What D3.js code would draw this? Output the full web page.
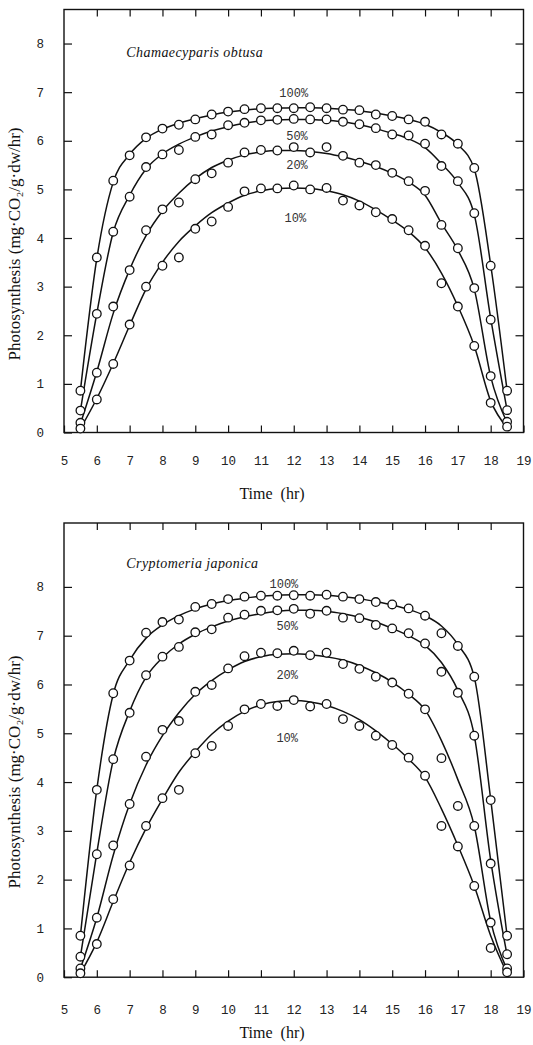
<!DOCTYPE html>
<html>
<head>
<meta charset="utf-8">
<script src="https://cdn.jsdelivr.net/npm/d3@7"></script>
<style>
body { margin: 0; background: #fff; }
</style>
</head>
<body>
<svg width="533" height="1045"></svg>
<script>
// half-hourly measurements, 5.5 h .. 18.5 h
var hours = [5.5, 6, 6.5, 7, 7.5, 8, 8.5, 9, 9.5, 10, 10.5, 11, 11.5, 12, 12.5,
             13, 13.5, 14, 14.5, 15, 15.5, 16, 16.5, 17, 17.5, 18, 18.5];
var xTickLabels = [5, 6, 7, 8, 9, 10, 11, 12, 13, 14, 15, 16, 17, 18, 19];
var yTickLabels = [0, 1, 2, 3, 4, 5, 6, 7, 8];
var lightLevels = ["100%", "50%", "20%", "10%"];

// Chamaecyparis obtusa - measured points
var obtusa100 = [0.86, 3.60, 5.18, 5.70, 6.07, 6.25, 6.33, 6.44, 6.54, 6.60, 6.65, 6.67, 6.67, 6.67,
                 6.69, 6.67, 6.64, 6.63, 6.54, 6.51, 6.44, 6.39, 6.13, 5.94, 5.44, 3.43, 0.86];
var obtusa50  = [0.45, 2.44, 4.13, 4.85, 5.46, 5.72, 5.81, 6.08, 6.13, 6.32, 6.37, 6.42, 6.43, 6.45,
                 6.44, 6.44, 6.39, 6.34, 6.26, 6.13, 6.11, 5.94, 5.48, 5.17, 4.51, 2.32, 0.46];
var obtusa20  = [0.20, 1.23, 2.59, 3.34, 4.16, 4.59, 4.73, 5.21, 5.33, 5.55, 5.76, 5.81, 5.80, 5.87,
                 5.76, 5.87, 5.69, 5.55, 5.50, 5.34, 5.17, 4.97, 4.27, 3.79, 2.97, 1.16, 0.22];
var obtusa10  = [0.08, 0.68, 1.41, 2.22, 3.00, 3.43, 3.60, 4.19, 4.34, 4.64, 4.96, 5.02, 5.02, 5.08,
                 5.00, 5.03, 4.77, 4.67, 4.53, 4.39, 4.16, 3.84, 3.07, 2.59, 1.78, 0.61, 0.12];
// Chamaecyparis obtusa - fitted curves
var obtusaFit100 = [0.86, 3.58, 5.15, 5.72, 6.05, 6.24, 6.36, 6.45, 6.53, 6.59, 6.63, 6.66, 6.67, 6.68,
                    6.68, 6.67, 6.65, 6.62, 6.57, 6.51, 6.44, 6.34, 6.17, 5.92, 5.42, 3.45, 0.86];
var obtusaFit50  = [0.45, 2.45, 4.12, 4.88, 5.42, 5.73, 5.93, 6.08, 6.20, 6.29, 6.36, 6.41, 6.43, 6.44,
                    6.44, 6.42, 6.39, 6.33, 6.25, 6.15, 6.04, 5.86, 5.53, 5.14, 4.48, 2.35, 0.46];
var obtusaFit20  = [0.18, 1.25, 2.45, 3.35, 4.05, 4.55, 4.92, 5.22, 5.45, 5.60, 5.71, 5.77, 5.80, 5.80,
                    5.78, 5.74, 5.67, 5.58, 5.47, 5.33, 5.15, 4.88, 4.30, 3.75, 2.95, 1.15, 0.20];
var obtusaFit10  = [0.08, 0.70, 1.42, 2.20, 2.95, 3.50, 3.93, 4.25, 4.52, 4.72, 4.88, 4.97, 5.02, 5.03,
                    5.02, 4.97, 4.89, 4.76, 4.58, 4.37, 4.13, 3.80, 3.28, 2.60, 1.78, 0.65, 0.10];

// Cryptomeria japonica - measured points
var japonica100 = [0.85, 3.84, 5.82, 6.49, 7.06, 7.28, 7.33, 7.59, 7.65, 7.75, 7.80, 7.82, 7.82, 7.83,
                   7.82, 7.84, 7.80, 7.75, 7.69, 7.64, 7.56, 7.41, 7.05, 6.79, 6.16, 3.63, 0.85];
var japonica50  = [0.42, 2.52, 4.47, 5.42, 6.19, 6.57, 6.77, 7.07, 7.13, 7.37, 7.43, 7.51, 7.52, 7.55,
                   7.45, 7.51, 7.37, 7.36, 7.22, 7.15, 7.05, 6.84, 6.26, 5.83, 4.95, 2.33, 0.47];
var japonica20  = [0.18, 1.22, 2.70, 3.55, 4.52, 5.07, 5.25, 5.85, 5.99, 6.33, 6.58, 6.65, 6.64, 6.69,
                   6.60, 6.65, 6.42, 6.32, 6.16, 6.04, 5.81, 5.49, 4.49, 3.51, 3.10, 1.12, 0.18];
var japonica10  = [0.08, 0.68, 1.60, 2.29, 3.10, 3.67, 3.84, 4.59, 4.74, 5.15, 5.49, 5.60, 5.56, 5.68,
                   5.55, 5.60, 5.29, 5.15, 4.95, 4.76, 4.50, 4.13, 3.10, 2.68, 1.87, 0.60, 0.10];
// Cryptomeria japonica - fitted curves
var japonicaFit100 = [0.85, 3.85, 5.80, 6.50, 6.95, 7.22, 7.41, 7.55, 7.65, 7.72, 7.77, 7.81, 7.83, 7.84,
                      7.84, 7.83, 7.80, 7.76, 7.70, 7.63, 7.54, 7.41, 7.20, 6.82, 6.15, 3.65, 0.85];
var japonicaFit50  = [0.42, 2.55, 4.45, 5.45, 6.15, 6.55, 6.83, 7.03, 7.18, 7.30, 7.39, 7.45, 7.50, 7.52,
                      7.52, 7.50, 7.45, 7.38, 7.28, 7.15, 7.00, 6.80, 6.45, 5.88, 4.95, 2.40, 0.45];
var japonicaFit20  = [0.18, 1.22, 2.50, 3.55, 4.35, 4.95, 5.42, 5.80, 6.08, 6.30, 6.47, 6.57, 6.62, 6.63,
                      6.61, 6.57, 6.50, 6.39, 6.24, 6.05, 5.80, 5.48, 4.85, 4.05, 3.10, 1.15, 0.15];
var japonicaFit10  = [0.08, 0.72, 1.55, 2.35, 3.05, 3.65, 4.20, 4.62, 4.98, 5.25, 5.45, 5.58, 5.65, 5.67,
                      5.64, 5.57, 5.45, 5.28, 5.05, 4.78, 4.47, 4.10, 3.45, 2.70, 1.87, 0.85, 0.08];

// where the % labels sit, in (hour, value)
var obtusaLabelAt   = [[12.0, 6.98], [12.1, 6.10], [12.1, 5.50], [12.05, 4.42]];
var japonicaLabelAt = [[11.7, 8.07], [11.8, 7.20], [11.8, 6.19], [11.8, 4.90]];

var svg = d3.select("svg");

function drawPanel(opt) {
    var x = d3.scaleLinear().domain([5, 19]).range([64, 523.5]);
    var y = d3.scaleLinear().domain([0, opt.ymax]).range([opt.zero, opt.top]);
    var g = svg.append("g");

    // inward ticks on all four sides
    g.append("g").attr("transform", "translate(0," + opt.zero + ")")
        .call(d3.axisBottom(x).tickValues(xTickLabels).tickSizeInner(-7).tickSizeOuter(0)
              .tickPadding(opt.xpad).tickFormat(d3.format("d")))
        .call(function(a){ a.select(".domain").remove(); });
    g.append("g").attr("transform", "translate(0," + opt.top + ")")
        .call(d3.axisTop(x).tickValues(xTickLabels.slice(1, -1)).tickSizeInner(-7).tickSizeOuter(0).tickFormat(""))
        .call(function(a){ a.select(".domain").remove(); });
    g.append("g").attr("transform", "translate(64,0)")
        .call(d3.axisLeft(y).tickValues(yTickLabels).tickSizeInner(-8).tickSizeOuter(0)
              .tickPadding(20).tickFormat(d3.format("d")))
        .call(function(a){ a.select(".domain").remove(); });
    g.append("g").attr("transform", "translate(523.5,0)")
        .call(d3.axisRight(y).tickValues(yTickLabels.slice(1)).tickSizeInner(-8).tickSizeOuter(0).tickFormat(""))
        .call(function(a){ a.select(".domain").remove(); });

    g.selectAll(".tick line").attr("stroke", "#111").attr("stroke-width", 1.2);
    g.selectAll(".tick text")
        .attr("font-family", "Liberation Mono, DejaVu Sans Mono, monospace")
        .attr("font-size", 12.5).attr("fill", "#222");

    g.append("rect")
        .attr("x", x(5)).attr("y", opt.top)
        .attr("width", x(19) - x(5)).attr("height", opt.zero - opt.top)
        .attr("fill", "none").attr("stroke", "#111").attr("stroke-width", 1.4);

    var line = d3.line()
        .x(function(d, i){ return x(hours[i]); })
        .y(function(d){ return y(d); })
        .curve(d3.curveMonotoneX);

    g.selectAll("path.fit").data(opt.fits).join("path")
        .attr("class", "fit")
        .attr("d", line)
        .attr("fill", "none").attr("stroke", "#111").attr("stroke-width", 1.5);

    opt.points.forEach(function(series){
        g.append("g").selectAll("circle").data(series).join("circle")
            .attr("cx", function(d, i){ return x(hours[i]); })
            .attr("cy", function(d){ return y(d); })
            .attr("r", 4.3)
            .attr("fill", "#fff").attr("stroke", "#111").attr("stroke-width", 1.3);
    });

    g.selectAll("text.lvl").data(lightLevels).join("text")
        .attr("class", "lvl")
        .attr("x", function(d, i){ return x(opt.labelAt[i][0]); })
        .attr("y", function(d, i){ return y(opt.labelAt[i][1]); })
        .attr("dy", "0.35em")
        .attr("text-anchor", "middle")
        .attr("font-family", "Liberation Mono, DejaVu Sans Mono, monospace")
        .attr("font-size", 12).attr("fill", "#333")
        .text(function(d){ return d; });

    g.append("text")
        .attr("x", x(opt.nameAt[0])).attr("y", y(opt.nameAt[1]))
        .attr("font-family", "Liberation Serif, serif").attr("font-style", "italic")
        .attr("font-size", 14).attr("letter-spacing", 0.4).attr("fill", "#111")
        .text(opt.name);

    g.append("text")
        .attr("x", 272).attr("y", opt.zero + opt.titleDy)
        .attr("text-anchor", "middle")
        .attr("font-family", "Liberation Serif, serif").attr("font-size", 16).attr("fill", "#111")
        .attr("xml:space", "preserve")
        .text("Time  (hr)");

    g.append("text")
        .attr("transform", "translate(20," + opt.ylabelMid + ") rotate(-90)")
        .attr("text-anchor", "middle")
        .attr("font-family", "Liberation Serif, serif").attr("font-size", 17).attr("fill", "#111")
        .text("Photosynthesis (mg\u00B7CO\u2082/g\u00B7dw/hr)");
}

drawPanel({
    top: 9.5, zero: 432.5, ymax: 8.7, xpad: 24, titleDy: 66, ylabelMid: 244,
    fits: [obtusaFit100, obtusaFit50, obtusaFit20, obtusaFit10],
    points: [obtusa100, obtusa50, obtusa20, obtusa10],
    labelAt: obtusaLabelAt,
    name: "Chamaecyparis  obtusa", nameAt: [6.9, 7.72]
});

drawPanel({
    top: 523, zero: 977.2, ymax: 9.31, xpad: 28, titleDy: 61, ylabelMid: 772,
    fits: [japonicaFit100, japonicaFit50, japonicaFit20, japonicaFit10],
    points: [japonica100, japonica50, japonica20, japonica10],
    labelAt: japonicaLabelAt,
    name: "Cryptomeria  japonica", nameAt: [6.9, 8.38]
});
</script>
</body>
</html>
